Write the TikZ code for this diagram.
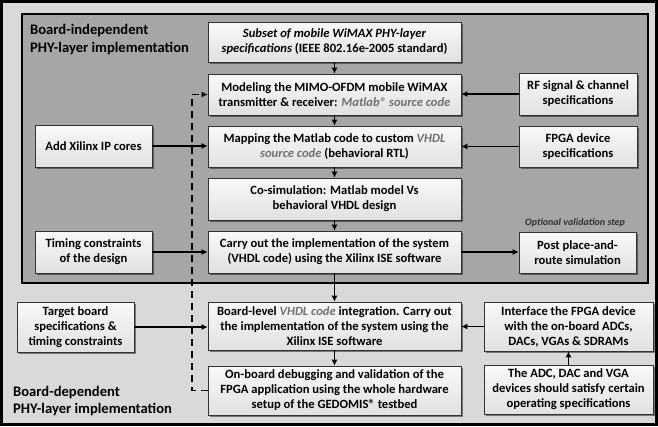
\documentclass[tikz,border=0pt]{standalone}
\usepackage{fontspec}
\setmainfont{Carlito}
\usetikzlibrary{arrows.meta,shadows}
\definecolor{outerbg}{HTML}{D9D9D9}
\definecolor{innerbg}{HTML}{A6A6A6}
\definecolor{codegray}{HTML}{707070}
\begin{document}
\begin{tikzpicture}[x=1pt,y=-1pt,
  box/.style={draw=black!80, line width=0.6pt, top color=gray!5, bottom color=gray!24,
    drop shadow={shadow xshift=1.5pt, shadow yshift=-1.5pt, opacity=0.45, fill=black},
    align=center, font=\fontsize{12.6}{15}\selectfont\bfseries, inner sep=0pt},
  arr/.style={line width=1.8pt, -{Latex[length=6pt,width=6pt]}},
  title/.style={anchor=base west, inner sep=0pt, font=\fontsize{14.6}{17}\selectfont\bfseries}]
\useasboundingbox (0,0) rectangle (658,426);
\draw[line width=3pt, fill=outerbg] (1.5,1.5) rectangle (656.5,424.5);
\draw[line width=2.5pt, fill=innerbg] (22,14) rectangle (648,283);

\node[title] (t1a) at (30,34) {Board-independent};
\node[title] (t1b) at (30,52) {PHY-layer implementation};
\node[title] (t2a) at (13,396) {Board-dependent};
\node[title] (t2b) at (13,413) {PHY-layer implementation};

% center column
\node[box, minimum width=253, minimum height=40] (b1) at (334.5,42)
  {{\itshape Subset of mobile WiMAX PHY-layer}\\{\itshape specifications} (IEEE 802.16e-2005 standard)};
\node[box, minimum width=253, minimum height=41] (b2) at (334.5,94.5)
  {Modeling the MIMO-OFDM mobile WiMAX\\transmitter \& receiver: \textcolor{codegray}{\itshape Matlab® source code}};
\node[box, minimum width=253, minimum height=41] (b3) at (334.5,146.5)
  {Mapping the Matlab code to custom \textcolor{codegray}{\itshape VHDL}\\\textcolor{codegray}{\itshape source code} (behavioral RTL)};
\node[box, minimum width=253, minimum height=42] (b4) at (334.5,199)
  {Co-simulation: Matlab model Vs\\behavioral VHDL design};
\node[box, minimum width=253, minimum height=42] (b5) at (334.5,252)
  {Carry out the implementation of the system\\(VHDL code) using the Xilinx ISE software};
\node[box, minimum width=253, minimum height=48] (b6) at (334.5,326)
  {Board-level \textcolor{codegray}{\itshape VHDL code} integration. Carry out\\the implementation of the system using the\\Xilinx ISE software};
\node[box, minimum width=253, minimum height=49] (b7) at (334.5,390.5)
  {On-board debugging and validation of the\\FPGA application using the whole hardware\\setup of the GEDOMIS® testbed};

% left column
\node[box, minimum width=117, minimum height=42] (xil) at (93.5,146) {Add Xilinx IP cores};
\node[box, minimum width=117, minimum height=42] (tim) at (93.5,252) {Timing constraints\\of the design};
\node[box, minimum width=117, minimum height=50] (tgt) at (75.5,327) {Target board\\specifications \&\\timing constraints};

% right column
\node[box, minimum width=118, minimum height=42] (rf) at (578,94) {RF signal \& channel\\specifications};
\node[box, minimum width=118, minimum height=41] (fpga) at (578,146.5) {FPGA device\\specifications};
\node[box, minimum width=117, minimum height=41] (post) at (577.5,252.5) {Post place-and-\\route simulation};
\node[font=\fontsize{10}{12}\selectfont\bfseries\itshape, text=black!80, inner sep=0pt] (opt) at (575,223) {Optional validation step};
\node[box, minimum width=169, minimum height=49] (intf) at (568.5,326.5) {Interface the FPGA device\\with the on-board ADCs,\\DACs, VGAs \& SDRAMs};
\node[box, minimum width=169, minimum height=49] (adc) at (568.5,389.5) {The ADC, DAC and VGA\\devices should satisfy certain\\operating specifications};

% connectors
\coordinate (fb) at (192,0);
\draw[arr, dash pattern=on 7pt off 5pt] (b7.west) -- (b7.west -| fb) |- (b2.west);
\draw[arr] (b1) -- (b2);
\draw[arr] (b2) -- (b3);
\draw[arr] (b3) -- (b4);
\draw[arr] (b4) -- (b5);
\draw[arr] (b5) -- (b6);
\draw[arr] (b6) -- (b7);
\draw[arr] (rf.west) -- (rf.west -| b2.east);
\draw[arr] (fpga.west) -- (fpga.west -| b3.east);
\draw[arr] (xil.east) -- (xil.east -| b3.west);
\draw[arr] (tim.east) -- (tim.east -| b5.west);
\draw[arr] (b5.east) -- (b5.east -| post.west);
\draw[arr] (tgt.east) -- (tgt.east -| b6.west);
\draw[arr] (intf.west) -- (intf.west -| b6.east);
\draw[arr] (adc) -- (intf);
\end{tikzpicture}
\end{document}
